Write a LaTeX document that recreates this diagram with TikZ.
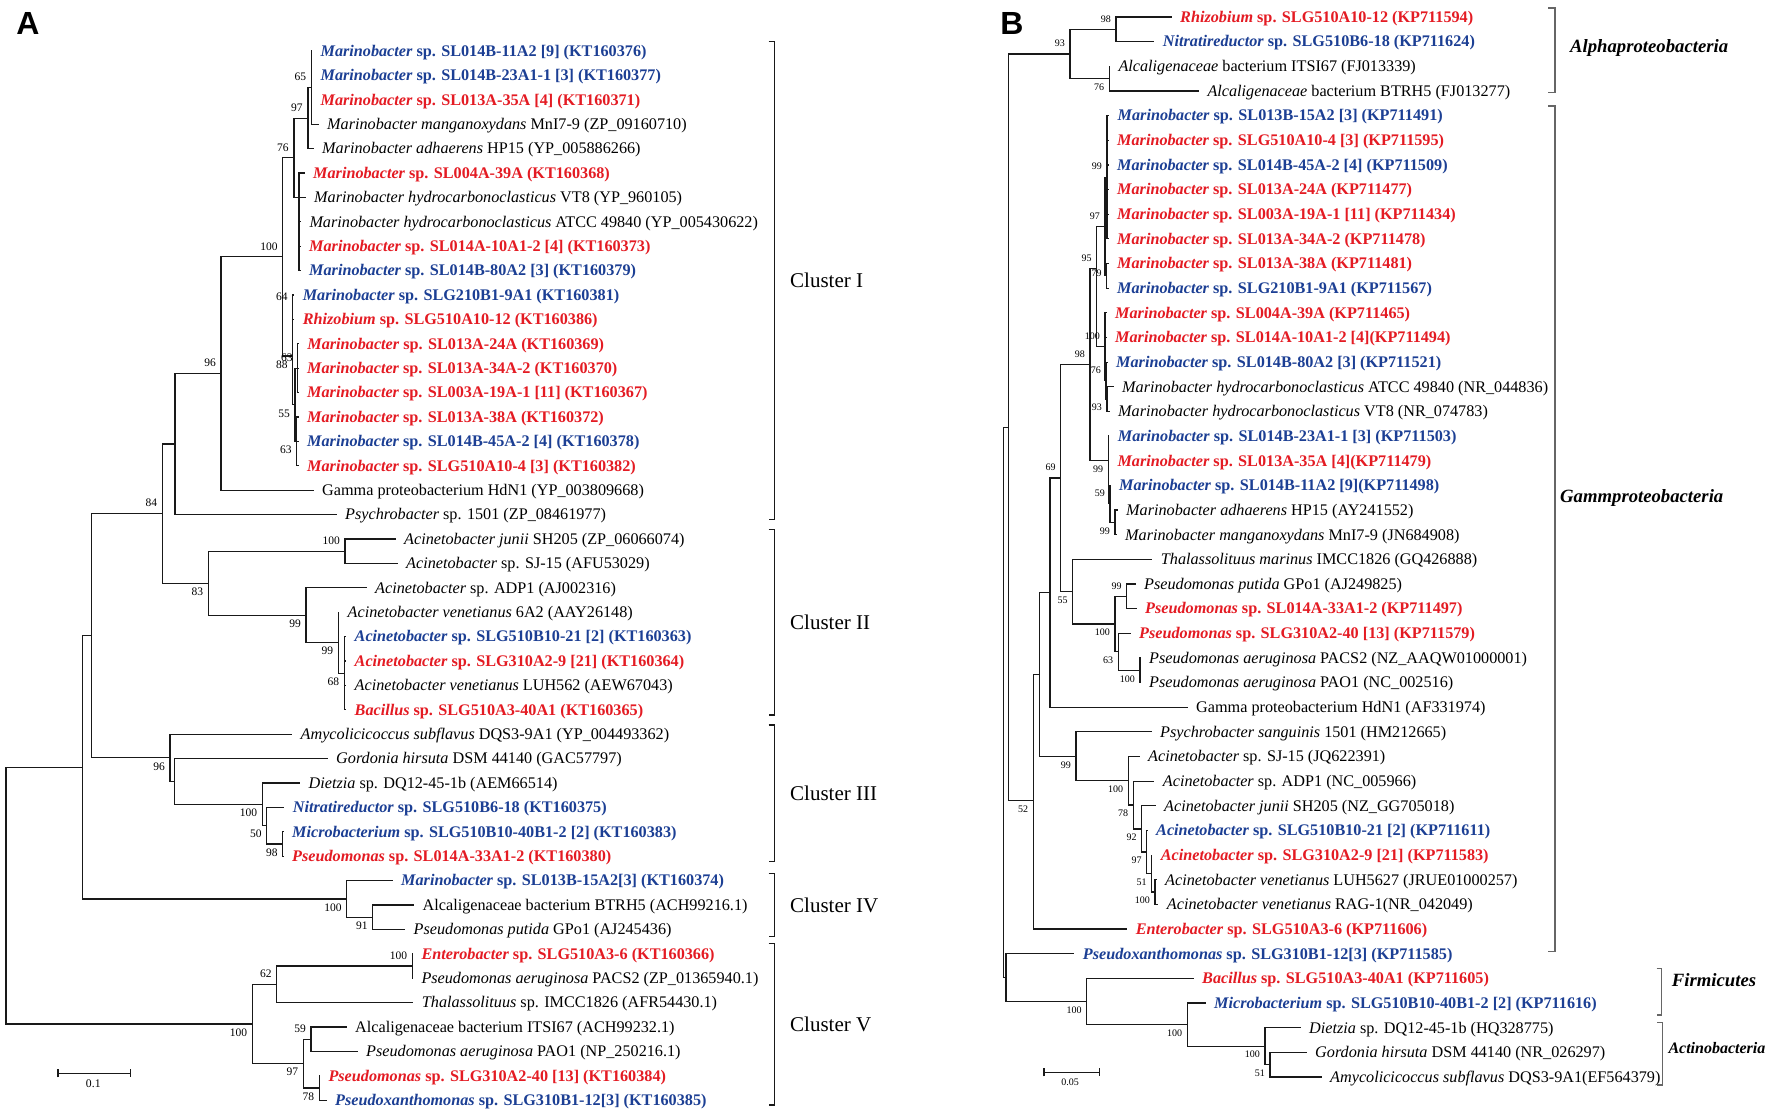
\documentclass[tikz,border=0pt]{standalone}
\usepackage{fontspec}
\setmainfont{Liberation Serif}
\newfontfamily\panelfont{Liberation Sans}
\usetikzlibrary{arrows.meta}
\definecolor{isored}{RGB}{228,27,35}
\definecolor{isoblue}{RGB}{28,63,148}
\newcommand{\iso}[2]{\textbf{\textit{#1} #2}}
\newcommand{\refs}[2]{\textit{#1} #2}
% one clade: elbow from the node to each child
\newcommand{\clade}[2]{\foreach \ch in {#2} {\draw[branch] (#1) |- (\ch.west);}}
\tikzset{
  branch/.style={line width=1.2pt, line cap=rect, black!90},
  leaf/.style={anchor=west, inner xsep=9pt, inner ysep=0pt, text height=10.7pt, text depth=0pt,
    font=\fontsize{16.2}{18}\selectfont},
  leafr/.style={leaf, text=isored},
  leafb/.style={leaf, text=isoblue},
  bsA/.style={anchor=east, inner sep=0.5pt, xshift=-4.5pt, font=\fontsize{11.5}{12}\selectfont},
  bsB/.style={anchor=east, inner sep=0.5pt, xshift=-4.5pt, font=\fontsize{10}{11}\selectfont},
  lup/.style={yshift=10.5pt},
  ldn/.style={yshift=-8.5pt},
  bracket/.style={line width=1.2pt, black!90},
  brackB/.style={line width=1.5pt, black!60},
  cluster/.style={anchor=west, inner sep=0pt, text height=14pt, text depth=0pt,
    font=\fontsize{21}{24}\selectfont},
  group/.style={anchor=west, inner sep=0pt, text height=12.4pt, text depth=0pt,
    font=\fontsize{18.7}{21}\selectfont\bfseries\itshape},
  panel/.style={inner sep=0pt, font=\panelfont\fontsize{32}{34}\selectfont\bfseries},
  scalebar/.style={line width=1.2pt, black!90, {Bar[width=8pt]}-{Bar[width=8pt]}}
}
\begin{document}
\begin{tikzpicture}[x=1pt, y=-1pt]
\fill[white] (0,0) rectangle (1772,1116);
\useasboundingbox (0,0) rectangle (1772,1116);
\node[panel] (panA) at (28,23.5) {A};
\node[panel] (panB) at (1012,23.5) {B};

% ---------- panel A ----------
\begin{scope}[y=-24.4pt, yshift=-26.6pt]
\node[leafb] (a1) at (311.4,1) {\iso{Marinobacter}{sp. SL014B-11A2 [9] (KT160376)}};
\node[leafb] (a2) at (311.4,2) {\iso{Marinobacter}{sp. SL014B-23A1-1 [3] (KT160377)}};
\node[leafr] (a3) at (311.4,3) {\iso{Marinobacter}{sp. SL013A-35A [4] (KT160371)}};
\node[leaf] (a4) at (318,4) {\refs{Marinobacter manganoxydans}{MnI7-9 (ZP\_09160710)}};
\node[leaf] (a5) at (313,5) {\refs{Marinobacter adhaerens}{HP15 (YP\_005886266)}};
\node[leafr] (a6) at (304,6) {\iso{Marinobacter}{sp. SL004A-39A (KT160368)}};
\node[leaf] (a7) at (305,7) {\refs{Marinobacter hydrocarbonoclasticus}{VT8 (YP\_960105)}};
\node[leaf] (a8) at (300.3,8) {\refs{Marinobacter hydrocarbonoclasticus}{ATCC 49840 (YP\_005430622)}};
\node[leafr] (a9) at (300,9) {\iso{Marinobacter}{sp. SL014A-10A1-2 [4] (KT160373)}};
\node[leafb] (a10) at (300,10) {\iso{Marinobacter}{sp. SL014B-80A2 [3] (KT160379)}};
\node[leafb] (a11) at (293.6,11) {\iso{Marinobacter}{sp. SLG210B1-9A1 (KT160381)}};
\node[leafr] (a12) at (293.6,12) {\iso{Rhizobium}{sp. SLG510A10-12 (KT160386)}};
\node[leafr] (a13) at (298.2,13) {\iso{Marinobacter}{sp. SL013A-24A (KT160369)}};
\node[leafr] (a14) at (298,14) {\iso{Marinobacter}{sp. SL013A-34A-2 (KT160370)}};
\node[leafr] (a15) at (298,15) {\iso{Marinobacter}{sp. SL003A-19A-1 [11] (KT160367)}};
\node[leafr] (a16) at (298,16) {\iso{Marinobacter}{sp. SL013A-38A (KT160372)}};
\node[leafb] (a17) at (298,17) {\iso{Marinobacter}{sp. SL014B-45A-2 [4] (KT160378)}};
\node[leafr] (a18) at (298,18) {\iso{Marinobacter}{sp. SLG510A10-4 [3] (KT160382)}};
\node[leaf] (a19) at (313,19) {Gamma proteobacterium HdN1 (YP\_003809668)};
\node[leaf] (a20) at (336,20) {\refs{Psychrobacter}{sp. 1501 (ZP\_08461977)}};
\node[leaf] (a21) at (395,21) {\refs{Acinetobacter junii}{SH205 (ZP\_06066074)}};
\node[leaf] (a22) at (397,22) {\refs{Acinetobacter}{sp. SJ-15 (AFU53029)}};
\node[leaf] (a23) at (366,23) {\refs{Acinetobacter}{sp. ADP1 (AJ002316)}};
\node[leaf] (a24) at (338.5,24) {\refs{Acinetobacter venetianus}{6A2 (AAY26148)}};
\node[leafb] (a25) at (345.5,25) {\iso{Acinetobacter}{sp. SLG510B10-21 [2] (KT160363)}};
\node[leafr] (a26) at (345.5,26) {\iso{Acinetobacter}{sp. SLG310A2-9 [21] (KT160364)}};
\node[leaf] (a27) at (345.5,27) {\refs{Acinetobacter venetianus}{LUH562 (AEW67043)}};
\node[leafr] (a28) at (345.5,28) {\iso{Bacillus}{sp. SLG510A3-40A1 (KT160365)}};
\node[leaf] (a29) at (291.5,29) {\refs{Amycolicicoccus subflavus}{DQS3-9A1 (YP\_004493362)}};
\node[leaf] (a30) at (327,30) {\refs{Gordonia hirsuta}{DSM 44140 (GAC57797)}};
\node[leaf] (a31) at (299.5,31) {\refs{Dietzia}{sp. DQ12-45-1b (AEM66514)}};
\node[leafb] (a32) at (283.7,32) {\iso{Nitratireductor}{sp. SLG510B6-18 (KT160375)}};
\node[leafb] (a33) at (283,33) {\iso{Microbacterium}{sp. SLG510B10-40B1-2 [2] (KT160383)}};
\node[leafr] (a34) at (283,34) {\iso{Pseudomonas}{sp. SL014A-33A1-2 (KT160380)}};
\node[leafb] (a35) at (392,35) {\iso{Marinobacter}{sp. SL013B-15A2[3] (KT160374)}};
\node[leaf] (a36) at (413.5,36) {Alcaligenaceae bacterium BTRH5 (ACH99216.1)};
\node[leaf] (a37) at (404.5,37) {\refs{Pseudomonas putida}{GPo1 (AJ245436)}};
\node[leafr] (a38) at (412.3,38) {\iso{Enterobacter}{sp. SLG510A3-6 (KT160366)}};
\node[leaf] (a39) at (412.3,39) {\refs{Pseudomonas aeruginosa}{PACS2 (ZP\_01365940.1)}};
\node[leaf] (a40) at (412.7,40) {\refs{Thalassolituus}{sp. IMCC1826 (AFR54430.1)}};
\node[leaf] (a41) at (346,41) {Alcaligenaceae bacterium ITSI67 (ACH99232.1)};
\node[leaf] (a42) at (357,42) {\refs{Pseudomonas aeruginosa}{PAO1 (NP\_250216.1)}};
\node[leafr] (a43) at (319.3,43) {\iso{Pseudomonas}{sp. SLG310A2-40 [13] (KT160384)}};
\node[leafb] (a44) at (326,44) {\iso{Pseudoxanthomonas}{sp. SLG310B1-12[3] (KT160385)}};

\coordinate (nA65) at (311.4,2.5);
\coordinate (nA97) at (307.9,3.75);
\coordinate (nAY) at (299,7);
\coordinate (nA76) at (293.9,5.375);
\coordinate (nA64) at (292.7,11.5);
\coordinate (nA1315) at (297.7,14);
\coordinate (nA63) at (296.7,17);
\coordinate (nA55) at (295,15.5);
\coordinate (nA88) at (292.7,13.5);
\coordinate (nA100) at (282.7,9.4375);
\coordinate (nA96) at (221,14.22);
\coordinate (nAps) at (175,17.11);
\coordinate (nA100b) at (345,21.5);
\coordinate (nA68) at (344.3,26.5);
\coordinate (nA99b) at (338.3,25.25);
\coordinate (nA99a) at (306,24.125);
\coordinate (nA83) at (208.3,22.81);
\coordinate (nA84) at (162.3,19.96);
\coordinate (nA98) at (282.7,33.5);
\coordinate (nA50) at (266.7,32.75);
\coordinate (nA100c) at (262.3,31.875);
\coordinate (nAgh) at (174.3,30.94);
\coordinate (nA96b) at (170,29.97);
\coordinate (nAac) at (91.7,24.96);
\coordinate (nA91) at (372.7,36.5);
\coordinate (nA100d) at (346.7,35.75);
\coordinate (nAtop) at (82.7,30.36);
\coordinate (nA100f) at (412.3,38.5);
\coordinate (nA62) at (276.7,39.25);
\coordinate (nA59) at (311,41.5);
\coordinate (nA78) at (319.3,43.5);
\coordinate (nA97b) at (303.3,42.5);
\coordinate (nA100e) at (252.3,40.875);
\coordinate (nAroot) at (6,35.6);

\clade{nA65}{a1,a2,a3,a4}
\clade{nA97}{nA65,a5}
\clade{nAY}{a6,a7,a8,a9,a10}
\clade{nA76}{nA97,nAY}
\clade{nA64}{a11,a12}
\clade{nA1315}{a13,a14,a15}
\clade{nA63}{a16,a17,a18}
\clade{nA55}{nA1315,nA63}
\clade{nA88}{nA64,nA55}
\clade{nA100}{nA76,nA88}
\clade{nA96}{nA100,a19}
\clade{nAps}{nA96,a20}
\clade{nA100b}{a21,a22}
\clade{nA68}{a25,a26,a27,a28}
\clade{nA99b}{a24,nA68}
\clade{nA99a}{a23,nA99b}
\clade{nA83}{nA100b,nA99a}
\clade{nA84}{nAps,nA83}
\clade{nA98}{a33,a34}
\clade{nA50}{a32,nA98}
\clade{nA100c}{a31,nA50}
\clade{nAgh}{a30,nA100c}
\clade{nA96b}{a29,nAgh}
\clade{nAac}{nA84,nA96b}
\clade{nA91}{a36,a37}
\clade{nA100d}{a35,nA91}
\clade{nAtop}{nAac,nA100d}
\clade{nA100f}{a38,a39}
\clade{nA62}{nA100f,a40}
\clade{nA59}{a41,a42}
\clade{nA78}{a43,a44}
\clade{nA97b}{nA59,nA78}
\clade{nA100e}{nA62,nA97b}
\clade{nAroot}{nAtop,nA100e}

% bootstrap values
\node[bsA,lup] (lA65) at (nA65) {65};
\node[bsA,lup] (lA97) at (nA97) {97};
\node[bsA,lup] (lA76) at (nA76) {76};
\node[bsA,lup] (lA64) at (nA64) {64};
\node[bsA,lup] (lA63a) at (nA1315) {63};
\node[bsA,ldn] (lA63b) at (nA63) {63};
\node[bsA,ldn] (lA55) at (nA55) {55};
\node[bsA,ldn] (lA88) at (nA88) {88};
\node[bsA,lup] (lA100) at (nA100) {100};
\node[bsA,lup] (lA96) at (nA96) {96};
\node[bsA,lup] (lA84) at (nA84) {84};
\node[bsA,ldn] (lA83) at (nA83) {83};
\node[bsA,lup] (lA100b) at (nA100b) {100};
\node[bsA,ldn] (lA99a) at (nA99a) {99};
\node[bsA,ldn] (lA99b) at (nA99b) {99};
\node[bsA,ldn] (lA68) at (nA68) {68};
\node[bsA,ldn] (lA96b) at (nA96b) {96};
\node[bsA,ldn] (lA100c) at (nA100c) {100};
\node[bsA,ldn] (lA50) at (nA50) {50};
\node[bsA,ldn] (lA98) at (nA98) {98};
\node[bsA,ldn] (lA100d) at (nA100d) {100};
\node[bsA,ldn] (lA91) at (nA91) {91};
\node[bsA,lup] (lA100f) at (nA100f) {100};
\node[bsA,lup] (lA62) at (nA62) {62};
\node[bsA,ldn] (lA100e) at (nA100e) {100};
\node[bsA,lup] (lA59) at (nA59) {59};
\node[bsA,ldn] (lA97b) at (nA97b) {97};
\node[bsA,ldn] (lA78) at (nA78) {78};
\end{scope}

% clusters of panel A
\foreach \ya/\yb/\clname in {41.7/519.3/I, 529.3/715/II, 725/861.7/III, 873.3/936.7/IV, 943.3/1105/V}{
  \draw[bracket] (768.6,\ya) -| (774.6,\yb) -- (768.6,\yb);
  \node[cluster] (cl\clname) at (790,{(\ya+\yb)/2}) {Cluster \clname};
}
\coordinate (sA1) at (57.3,1073.3);
\coordinate (sA2) at (131,1073.3);
\draw[scalebar] (sA1) -- (sA2);
\node[font=\fontsize{11.7}{12}\selectfont, inner sep=0pt] (sAl) at (93.3,1083.5) {0.1};

% ---------- panel B ----------
\begin{scope}[y=-24.65pt, yshift=7.65pt]
\node[leafr] (b1) at (1171,1) {\iso{Rhizobium}{sp. SLG510A10-12 (KP711594)}};
\node[leafb] (b2) at (1153.7,2) {\iso{Nitratireductor}{sp. SLG510B6-18 (KP711624)}};
\node[leaf] (b3) at (1109.3,3) {\refs{Alcaligenaceae}{bacterium ITSI67 (FJ013339)}};
\node[leaf] (b4) at (1198.3,4) {\refs{Alcaligenaceae}{bacterium BTRH5 (FJ013277)}};
\node[leafb] (b5) at (1108.5,5) {\iso{Marinobacter}{sp. SL013B-15A2 [3] (KP711491)}};
\node[leafr] (b6) at (1108,6) {\iso{Marinobacter}{sp. SLG510A10-4 [3] (KP711595)}};
\node[leafb] (b7) at (1108,7) {\iso{Marinobacter}{sp. SL014B-45A-2 [4] (KP711509)}};
\node[leafr] (b8) at (1108,8) {\iso{Marinobacter}{sp. SL013A-24A (KP711477)}};
\node[leafr] (b9) at (1108,9) {\iso{Marinobacter}{sp. SL003A-19A-1 [11] (KP711434)}};
\node[leafr] (b10) at (1108,10) {\iso{Marinobacter}{sp. SL013A-34A-2 (KP711478)}};
\node[leafr] (b11) at (1108,11) {\iso{Marinobacter}{sp. SL013A-38A (KP711481)}};
\node[leafb] (b12) at (1108,12) {\iso{Marinobacter}{sp. SLG210B1-9A1 (KP711567)}};
\node[leafr] (b13) at (1106,13) {\iso{Marinobacter}{sp. SL004A-39A (KP711465)}};
\node[leafr] (b14) at (1106,14) {\iso{Marinobacter}{sp. SL014A-10A1-2 [4](KP711494)}};
\node[leafb] (b15) at (1107,15) {\iso{Marinobacter}{sp. SL014B-80A2 [3] (KP711521)}};
\node[leaf] (b16) at (1113,16) {\refs{Marinobacter hydrocarbonoclasticus}{ATCC 49840 (NR\_044836)}};
\node[leaf] (b17) at (1109,17) {\refs{Marinobacter hydrocarbonoclasticus}{VT8 (NR\_074783)}};
\node[leafb] (b18) at (1108.7,18) {\iso{Marinobacter}{sp. SL014B-23A1-1 [3] (KP711503)}};
\node[leafr] (b19) at (1108.3,19) {\iso{Marinobacter}{sp. SL013A-35A [4](KP711479)}};
\node[leafb] (b20) at (1110,20) {\iso{Marinobacter}{sp. SL014B-11A2 [9](KP711498)}};
\node[leaf] (b21) at (1117,21) {\refs{Marinobacter adhaerens}{HP15 (AY241552)}};
\node[leaf] (b22) at (1116,22) {\refs{Marinobacter manganoxydans}{MnI7-9 (JN684908)}};
\node[leaf] (b23) at (1151.7,23) {\refs{Thalassolituus marinus}{IMCC1826 (GQ426888)}};
\node[leaf] (b24) at (1135,24) {\refs{Pseudomonas putida}{GPo1 (AJ249825)}};
\node[leafr] (b25) at (1136,25) {\iso{Pseudomonas}{sp. SL014A-33A1-2 (KP711497)}};
\node[leafr] (b26) at (1130,26) {\iso{Pseudomonas}{sp. SLG310A2-40 [13] (KP711579)}};
\node[leaf] (b27) at (1140,27) {\refs{Pseudomonas aeruginosa}{PACS2 (NZ\_AAQW01000001)}};
\node[leaf] (b28) at (1140,28) {\refs{Pseudomonas aeruginosa}{PAO1 (NC\_002516)}};
\node[leaf] (b29) at (1187,29) {Gamma proteobacterium HdN1 (AF331974)};
\node[leaf] (b30) at (1151,30) {\refs{Psychrobacter sanguinis}{1501 (HM212665)}};
\node[leaf] (b31) at (1139,31) {\refs{Acinetobacter}{sp. SJ-15 (JQ622391)}};
\node[leaf] (b32) at (1153.7,32) {\refs{Acinetobacter}{sp. ADP1 (NC\_005966)}};
\node[leaf] (b33) at (1155,33) {\refs{Acinetobacter junii}{SH205 (NZ\_GG705018)}};
\node[leafb] (b34) at (1147,34) {\iso{Acinetobacter}{sp. SLG510B10-21 [2] (KP711611)}};
\node[leafr] (b35) at (1151.7,35) {\iso{Acinetobacter}{sp. SLG310A2-9 [21] (KP711583)}};
\node[leaf] (b36) at (1156,36) {\refs{Acinetobacter venetianus}{LUH5627 (JRUE01000257)}};
\node[leaf] (b37) at (1157.7,37) {\refs{Acinetobacter venetianus}{RAG-1(NR\_042049)}};
\node[leafr] (b38) at (1126.7,38) {\iso{Enterobacter}{sp. SLG510A3-6 (KP711606)}};
\node[leafb] (b39) at (1073.7,39) {\iso{Pseudoxanthomonas}{sp. SLG310B1-12[3] (KP711585)}};
\node[leafr] (b40) at (1193,40) {\iso{Bacillus}{sp. SLG510A3-40A1 (KP711605)}};
\node[leafb] (b41) at (1205,41) {\iso{Microbacterium}{sp. SLG510B10-40B1-2 [2] (KP711616)}};
\node[leaf] (b42) at (1300,42) {\refs{Dietzia}{sp. DQ12-45-1b (HQ328775)}};
\node[leaf] (b43) at (1306,43) {\refs{Gordonia hirsuta}{DSM 44140 (NR\_026297)}};
\node[leaf] (b44) at (1321,44) {\refs{Amycolicicoccus subflavus}{DQS3-9A1(EF564379)}};

\coordinate (nB98) at (1116,1.5);
\coordinate (nB76) at (1109.3,3.5);
\coordinate (nB93) at (1070,2.5);
\coordinate (nB99m) at (1107,7.5);
\coordinate (nB79) at (1106.7,11.5);
\coordinate (nB97m) at (1105,9.5);
\coordinate (nB93s) at (1107,16.5);
\coordinate (nB76s) at (1106,15.75);
\coordinate (nB100s) at (1105,14.375);
\coordinate (nB95) at (1096.7,11.2);
\coordinate (nB99a) at (1115,21.5);
\coordinate (nB59) at (1110,20.75);
\coordinate (nB99b) at (1108.3,19);
\coordinate (nB98c) at (1090,15.1);
\coordinate (nB99f) at (1126.7,24.5);
\coordinate (nB100j) at (1140,27.5);
\coordinate (nB63) at (1118.3,26.75);
\coordinate (nB100i) at (1115,25.625);
\coordinate (nB55) at (1072.7,24.31);
\coordinate (nB69) at (1060.7,19.7);
\coordinate (nBgp) at (1050,24.35);
\coordinate (nB100l) at (1155,36.5);
\coordinate (nB51) at (1151.7,35.75);
\coordinate (nB97d) at (1146.7,34.875);
\coordinate (nB92) at (1141.7,33.94);
\coordinate (nB78) at (1133.3,32.97);
\coordinate (nB100k) at (1128.3,31.98);
\coordinate (nB99c) at (1076,30.99);
\coordinate (nBu) at (1039.3,27.67);
\coordinate (nB52) at (1033.3,32.8);
\coordinate (nBx) at (1008.3,17.65);
\coordinate (nB51b) at (1270,43.5);
\coordinate (nB100n) at (1265,42.75);
\coordinate (nB100m) at (1187.3,41.875);
\coordinate (nB100g) at (1086.7,40.94);
\coordinate (nBpf) at (1006,39.97);
\coordinate (nBroot) at (1003.3,28.81);

\clade{nB98}{b1,b2}
\clade{nB76}{b3,b4}
\clade{nB93}{nB98,nB76}
\clade{nB99m}{b5,b6,b7,b8,b9,b10}
\clade{nB79}{b11,b12}
\clade{nB97m}{nB99m,nB79}
\clade{nB93s}{b16,b17}
\clade{nB76s}{b15,nB93s}
\clade{nB100s}{b13,b14,nB76s}
\clade{nB95}{nB97m,nB100s}
\clade{nB99a}{b21,b22}
\clade{nB59}{b20,nB99a}
\clade{nB99b}{b18,b19,nB59}
\clade{nB98c}{nB95,nB99b}
\clade{nB99f}{b24,b25}
\clade{nB100j}{b27,b28}
\clade{nB63}{b26,nB100j}
\clade{nB100i}{nB99f,nB63}
\clade{nB55}{b23,nB100i}
\clade{nB69}{nB98c,nB55}
\clade{nBgp}{nB69,b29}
\clade{nB100l}{b36,b37}
\clade{nB51}{b35,nB100l}
\clade{nB97d}{b34,nB51}
\clade{nB92}{b33,nB97d}
\clade{nB78}{b32,nB92}
\clade{nB100k}{b31,nB78}
\clade{nB99c}{b30,nB100k}
\clade{nBu}{nBgp,nB99c}
\clade{nB52}{nBu,b38}
\clade{nBx}{nB93,nB52}
\clade{nB51b}{b43,b44}
\clade{nB100n}{b42,nB51b}
\clade{nB100m}{b41,nB100n}
\clade{nB100g}{b40,nB100m}
\clade{nBpf}{b39,nB100g}
\clade{nBroot}{nBx,nBpf}

% bootstrap values
\node[bsB,lup] (lB98) at (nB98) {98};
\node[bsB,lup] (lB93) at (nB93) {93};
\node[bsB,ldn] (lB76) at (nB76) {76};
\node[bsB,lup] (lB99m) at (nB99m) {99};
\node[bsB,yshift=3pt] (lB79) at (nB79) {79};
\node[bsB,lup] (lB97m) at (nB97m) {97};
\node[bsB,lup] (lB95) at (nB95) {95};
\node[bsB,lup] (lB100s) at (nB100s) {100};
\node[bsB,lup] (lB76s) at (nB76s) {76};
\node[bsB,ldn] (lB93s) at (nB93s) {93};
\node[bsB,lup] (lB98c) at (nB98c) {98};
\node[bsB,ldn] (lB99b) at (nB99b) {99};
\node[bsB,lup] (lB59) at (nB59) {59};
\node[bsB,ldn] (lB99a) at (nB99a) {99};
\node[bsB,lup] (lB69) at (nB69) {69};
\node[bsB,ldn] (lB55) at (nB55) {55};
\node[bsB,lup] (lB99f) at (nB99f) {99};
\node[bsB,ldn] (lB100i) at (nB100i) {100};
\node[bsB,ldn] (lB63) at (nB63) {63};
\node[bsB,ldn] (lB100j) at (nB100j) {100};
\node[bsB,ldn] (lB52) at (nB52) {52};
\node[bsB,ldn] (lB99c) at (nB99c) {99};
\node[bsB,ldn] (lB100k) at (nB100k) {100};
\node[bsB,ldn] (lB78) at (nB78) {78};
\node[bsB,ldn] (lB92) at (nB92) {92};
\node[bsB,ldn] (lB97d) at (nB97d) {97};
\node[bsB,ldn] (lB51) at (nB51) {51};
\node[bsB,ldn] (lB100l) at (nB100l) {100};
\node[bsB,ldn] (lB100g) at (nB100g) {100};
\node[bsB,ldn] (lB100m) at (nB100m) {100};
\node[bsB,ldn] (lB100n) at (nB100n) {100};
\node[bsB,ldn] (lB51b) at (nB51b) {51};
\end{scope}

% groups of panel B
\draw[brackB] (1548.3,8) -| (1555,92.7) -- (1548.3,92.7);
\draw[brackB] (1548.3,106) -| (1555,951.7) -- (1548.3,951.7);
\draw[brackB] (1656.7,968.3) -| (1661.7,1015) -- (1656.7,1015);
\draw[brackB] (1657,1022.7) -| (1662.7,1085) -- (1657,1085);
\node[group] (gAlpha) at (1570,46.7) {Alphaproteobacteria};
\node[group] (gGamma) at (1560,496) {Gammproteobacteria};
\node[group] (gFirm) at (1671.7,980) {Firmicutes};
\node[group, text height=10.6pt, font=\fontsize{16}{18}\selectfont\bfseries\itshape] (gActino) at (1668.3,1048.3) {Actinobacteria};
\coordinate (sB1) at (1043.3,1072.3);
\coordinate (sB2) at (1100,1072.3);
\draw[scalebar] (sB1) -- (sB2);
\node[font=\fontsize{10}{11}\selectfont, inner sep=0pt] (sBl) at (1070,1082) {0.05};
\end{tikzpicture}
\end{document}
